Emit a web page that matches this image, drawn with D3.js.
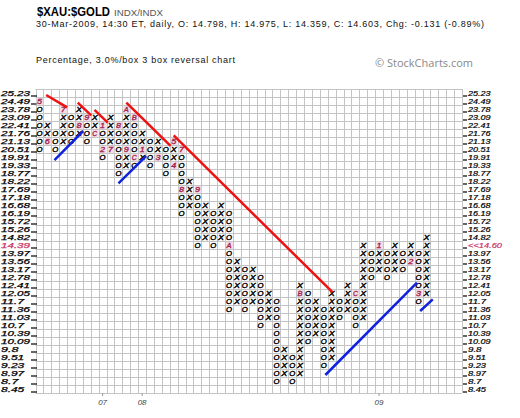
<!DOCTYPE html>
<html><head><meta charset="utf-8">
<script src="https://cdn.jsdelivr.net/npm/d3@7"></script>
<style>body{margin:0;background:#fff}svg{display:block}</style>
</head><body>
<svg id="chart" width="520" height="418"></svg>
<script>
// ---- data ----
const boxLevels = ["25.23","24.49","23.78","23.09","22.41","21.76","21.13","20.51","19.91","19.33","18.77","18.22","17.69","17.18","16.68","16.19","15.72","15.26","14.82","14.39","13.97","13.56","13.17","12.78","12.41","12.05","11.7","11.36","11.03","10.7","10.39","10.09","9.8","9.51","9.23","8.97","8.7","8.45"];
const colType = ["O","X","O","X","O","X","O","X","O","X","O","X","O","X","O","X","O","X","O","X","O","X","O","X","O","X","O","X","O","X","O","X","O","X","O","X","O","X","O","X","O","X","O","X","O","X","O","X","O","X"];
const colTop =    [1,4,5,2,3,2,3,3,4,3, 4,2,3,5,6,6,7,6,7,11, 12,14,15,14,15,21,22,22,23,25, 26,32,33,24,25,26,27,25,26,24, 25,19,20,19,20,19,20,19,20,18];
const colBottom = [7,6,7,6,6,5,6,5,8,7, 10,9,9,8,9,8,10,9,15,14, 19,18,19,18,27,26,27,26,29,28, 36,35,36,35,31,30,34,33,28,27, 29,28,23,22,23,22,22,21,26,25];
const markers = [[0,1,"5"],[1,6,"6"],[3,2,"7"],[5,4,"8"],[6,3,"9"],[7,5,"C"],[8,4,"1"],[8,7,"2"],[9,7,"7"],[10,4,"8"],[11,7,"9"],[11,2,"A"],[12,3,"B"],[12,8,"C"],[13,7,"1"],[15,8,"3"],[17,9,"4"],[17,6,"5"],[18,7,"7"],[18,12,"8"],[20,12,"9"],[24,19,"A"],[33,25,"B"],[40,25,"C"],[43,19,"1"],[47,21,"2"],[48,25,"3"]];
const yearLabels = [[8,"07"],[13,"08"],[43,"09"]];
const redLines = [[1.35,0.75,4.0,2.3],[5.35,1.7,7.05,3.3],[7.47,2.6,9.15,4.2],[11.5,1.7,17.1,7.1],[17.5,5.8,37.6,25.4]];
const blueLines = [[2.4,8.9,6.04,5.25],[10.5,11.8,14.0,8.4],[36.7,35.75,48.3,24.2],[48.7,27.75,50.3,26.3]];
const lastPriceRow = 19, lastPriceLabel = "<<14.60";
const nCols = 54;

// ---- layout ----
const svg = d3.select("#chart");
const L = 35.5, R = 462, T = 89, B = 393;
const x = d3.scaleLinear().domain([0, nCols]).range([L, R]);
const y = d3.scaleLinear().domain([0, boxLevels.length]).range([T, B]);
const cw = x(1) - x(0), ch = y(1) - y(0);
const sans = "Liberation Sans, Arial, sans-serif";
const small = "Liberation Sans, Arial, sans-serif";
const fs = 7.1; // keeps each glyph box inside one 8px row

// titles
svg.append("text").attr("x",37).attr("y",16).attr("font-family",sans)
  .attr("font-weight","bold").attr("font-size",12).attr("fill","#000")
  .attr("textLength",73).attr("lengthAdjust","spacingAndGlyphs").text("$XAU:$GOLD");
svg.append("text").attr("x",114).attr("y",15.5).attr("font-family",sans)
  .attr("font-size",8.5).attr("fill","#555").attr("textLength",49).attr("lengthAdjust","spacingAndGlyphs").text("INDX/INDX");
svg.append("text").attr("x",36).attr("y",27).attr("font-family",sans)
  .attr("font-size",9).attr("fill","#111").attr("textLength",448).attr("lengthAdjust","spacing")
  .text("30-Mar-2009, 14:30 ET, daily, O: 14.798, H: 14.975, L: 14.359, C: 14.603, Chg: -0.131 (-0.89%)");
svg.append("text").attr("x",36).attr("y",63).attr("font-family",sans)
  .attr("font-size",9).attr("fill","#111").attr("textLength",199).attr("lengthAdjust","spacing")
  .text("Percentage, 3.0%/box 3 box reversal chart");
svg.append("text").attr("x",375).attr("y",67).attr("font-family","Open Sans, sans-serif")
  .attr("font-size",10.5).attr("fill","#888").attr("textLength",98).attr("lengthAdjust","spacingAndGlyphs")
  .text("© StockCharts.com");

// grid
const g = svg.append("g");
g.selectAll("line.v").data(d3.range(nCols+1)).join("line")
  .attr("x1",d=>Math.round(x(d))+0.5).attr("x2",d=>Math.round(x(d))+0.5).attr("y1",T).attr("y2",B)
  .attr("stroke","#c4c4c4").attr("stroke-width",1);
g.selectAll("line.h").data(d3.range(boxLevels.length+1)).join("line")
  .attr("y1",d=>Math.round(y(d))+0.5).attr("y2",d=>Math.round(y(d))+0.5).attr("x1",L).attr("x2",R)
  .attr("stroke","#c4c4c4").attr("stroke-width",1);

// axes labels
const labL = svg.append("g").attr("font-family",small).attr("font-style","italic").attr("font-size",fs);
const labR = svg.append("g").attr("font-family",small).attr("font-style","italic").attr("font-size",fs);
boxLevels.forEach((v,i)=>{
  const cy = y(i+0.5);
  const col = i===lastPriceRow?"#cc3366":"#000";
  labL.append("text").attr("x",1).attr("y",cy+2.6).attr("fill",col).attr("stroke",col).attr("stroke-width",0.25)
    .attr("textLength",v.length*5.8).attr("lengthAdjust","spacingAndGlyphs").text(v);
  labL.append("line").attr("x1",31).attr("x2",37).attr("y1",cy+3).attr("y2",cy+3).attr("stroke","#000").attr("stroke-width",1.2);
  labR.append("line").attr("x1",R+1).attr("x2",R+5).attr("y1",cy+3).attr("y2",cy+3).attr("stroke","#000").attr("stroke-width",1.2);
  const rt = i===lastPriceRow? lastPriceLabel : v;
  labR.append("text").attr("x",R+6).attr("y",cy+2.6).attr("fill",col).attr("stroke",col).attr("stroke-width",0.2)
    .attr("textLength",i===lastPriceRow?34:rt.length*4.5).attr("lengthAdjust","spacingAndGlyphs").text(rt);
});
yearLabels.forEach(([c,t])=>{
  svg.append("text").attr("x",x(c+0.5)).attr("y",405).attr("text-anchor","middle")
    .attr("font-family",small).attr("font-style","italic").attr("font-size",8).attr("fill","#444").text(t);
  svg.append("line").attr("x1",x(c+0.5)).attr("x2",x(c+0.5)).attr("y1",B).attr("y2",B+3).attr("stroke","#999");
});

// symbols
const mk = new Map(markers.map(([c,r,t])=>[c+"_"+r,t]));
const cells = [];
colType.forEach((t,c)=>{ for(let r=colTop[c]; r<=colBottom[c]; r++){ cells.push({c,r,t,m:mk.get(c+"_"+r)}); } });
const sym = svg.append("g").attr("font-family",small).attr("font-style","italic").attr("font-size",fs).attr("text-anchor","middle");
cells.forEach(d=>{
  const cx = x(d.c+0.5), cy = y(d.r+0.5);
  if(d.m){
    sym.append("rect").attr("x",x(d.c)+1).attr("y",y(d.r)+1).attr("width",cw-1).attr("height",ch-1).attr("fill","#f3dde6");
    sym.append("text").attr("x",cx).attr("y",cy+2.6).attr("fill","#a0204a").attr("stroke","#a0204a").attr("stroke-width",0.3)
      .attr("textLength",5).attr("lengthAdjust","spacingAndGlyphs").text(d.m);
  } else {
    sym.append("text").attr("x",cx).attr("y",cy+2.6).attr("fill","#000").attr("stroke","#000").attr("stroke-width",0.4)
      .attr("textLength",6).attr("lengthAdjust","spacingAndGlyphs").text(d.t);
  }
});

// trend lines
svg.append("g").selectAll("line").data(redLines).join("line")
  .attr("x1",d=>x(d[0])).attr("y1",d=>y(d[1])).attr("x2",d=>x(d[2])).attr("y2",d=>y(d[3]))
  .attr("stroke","#ee1111").attr("stroke-width",2.5);
svg.append("g").selectAll("line").data(blueLines).join("line")
  .attr("x1",d=>x(d[0])).attr("y1",d=>y(d[1])).attr("x2",d=>x(d[2])).attr("y2",d=>y(d[3]))
  .attr("stroke","#1122dd").attr("stroke-width",2.5);
</script>
</body></html>
